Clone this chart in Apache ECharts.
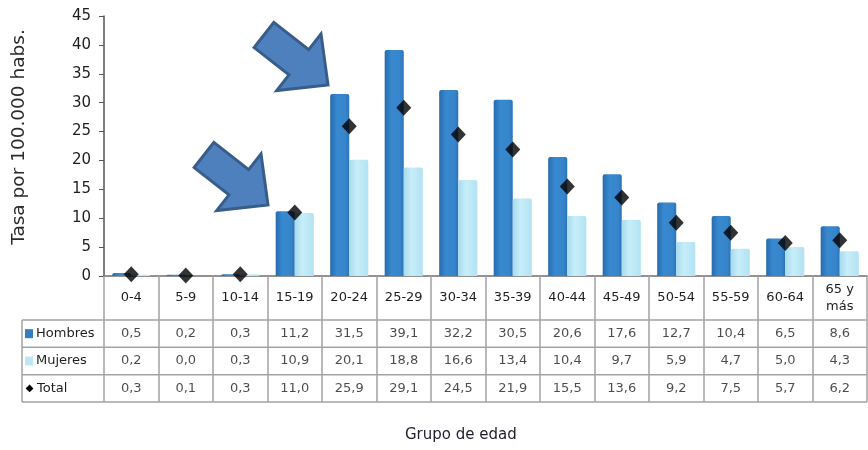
<!DOCTYPE html>
<html>
<head>
<meta charset="utf-8">
<title>Tasa por grupo de edad</title>
<script src="https://cdn.jsdelivr.net/npm/echarts@6/dist/echarts.min.js"></script>
<style>
  html, body { margin: 0; padding: 0; background: #fff; }
  #chart { width: 868px; height: 450px; }
</style>
</head>
<body>
<div id="chart"></div>
<script>
// Rates per 100,000 inhabitants by age group
const categorias = ['0-4', '5-9', '10-14', '15-19', '20-24', '25-29', '30-34', '35-39',
  '40-44', '45-49', '50-54', '55-59', '60-64', '65 y\nmás'];
const hombres = [0.5, 0.2, 0.3, 11.2, 31.5, 39.1, 32.2, 30.5, 20.6, 17.6, 12.7, 10.4, 6.5, 8.6];
const mujeres = [0.2, 0.0, 0.3, 10.9, 20.1, 18.8, 16.6, 13.4, 10.4, 9.7, 5.9, 4.7, 5.0, 4.3];
const total = [0.3, 0.1, 0.3, 11.0, 25.9, 29.1, 24.5, 21.9, 15.5, 13.6, 9.2, 7.5, 5.7, 6.2];
const filas = ['Hombres', 'Mujeres', 'Total'];
const ejeY = { min: 0, max: 45, interval: 5 };

// Layout
const W = 868;
const PLOT_LEFT = 104, PLOT_RIGHT = 867, PLOT_TOP = 16, PLOT_BOTTOM = 276;
const HEADER_BOTTOM = 320, TABLE_BOTTOM = 402, LEGEND_LEFT = 22;
const ROW_H = (TABLE_BOTTOM - HEADER_BOTTOM) / filas.length;
const FONT = '"DejaVu Sans", Verdana, sans-serif';
const GRID_LINE = '#a3a3a3';

const fmt = v => v.toFixed(1).replace('.', ',');

const colorHombres = new echarts.graphic.LinearGradient(0, 0, 1, 0, [
  { offset: 0, color: '#276cae' },
  { offset: 0.35, color: '#3789d0' },
  { offset: 0.8, color: '#3785cb' },
  { offset: 1, color: '#2b74b9' }
]);
const colorMujeres = new echarts.graphic.LinearGradient(0, 0, 1, 0, [
  { offset: 0, color: '#a6daee' },
  { offset: 0.4, color: '#c7eef9' },
  { offset: 1, color: '#b2e2f3' }
]);

// Table cells: [category index, row index, value]
const celdas = [];
[hombres, mujeres, total].forEach((serie, r) => {
  serie.forEach((v, i) => celdas.push([i, r, v]));
});

// Block arrow, built along its axis then rotated into place
function flecha(tx, ty, px, py) {
  const dx = px - tx, dy = py - ty;
  const len = Math.hypot(dx, dy);
  const ux = dx / len, uy = dy / len;
  const nx = -uy, ny = ux;
  const h = 16, H = 36, head = 37;
  const local = [[0, -h], [len - head, -h], [len - head, -H], [len, 0],
    [len - head, H], [len - head, h], [0, h]];
  return {
    type: 'polygon',
    z: 100,
    shape: { points: local.map(([a, b]) => [tx + a * ux + b * nx, ty + a * uy + b * ny]) },
    style: { fill: '#4f80be', stroke: '#385d8a', lineWidth: 3, lineJoin: 'miter' }
  };
}

// Table rules
const rules = [];
[HEADER_BOTTOM, HEADER_BOTTOM + ROW_H, HEADER_BOTTOM + 2 * ROW_H, TABLE_BOTTOM].forEach(y => {
  rules.push({
    type: 'line', z: 50,
    shape: { x1: LEGEND_LEFT, y1: y, x2: PLOT_RIGHT, y2: y },
    style: { stroke: GRID_LINE, lineWidth: 1.5 }
  });
});
rules.push({
  type: 'line', z: 50,
  shape: { x1: LEGEND_LEFT, y1: HEADER_BOTTOM, x2: LEGEND_LEFT, y2: TABLE_BOTTOM },
  style: { stroke: GRID_LINE, lineWidth: 1.5 }
});

const chart = echarts.init(document.getElementById('chart'), null, { renderer: 'canvas' });

chart.setOption({
  animation: false,
  backgroundColor: '#fff',
  textStyle: { fontFamily: FONT },
  grid: [
    { left: PLOT_LEFT, right: W - PLOT_RIGHT, top: PLOT_TOP, height: PLOT_BOTTOM - PLOT_TOP,
      containLabel: false, outerBoundsMode: 'none' },
    { left: PLOT_LEFT, right: W - PLOT_RIGHT, top: HEADER_BOTTOM, height: TABLE_BOTTOM - HEADER_BOTTOM,
      containLabel: false, outerBoundsMode: 'none' }
  ],
  xAxis: [
    {
      type: 'category',
      gridIndex: 0,
      data: categorias,
      axisLine: { show: true, lineStyle: { color: '#6f6f6f', width: 1.5 } },
      axisTick: { show: true, interval: 0, length: TABLE_BOTTOM - PLOT_BOTTOM,
        lineStyle: { color: GRID_LINE, width: 1.5 } },
      axisLabel: {
        interval: 0, margin: (HEADER_BOTTOM - PLOT_BOTTOM) / 2, verticalAlign: 'middle',
        fontFamily: FONT, fontSize: 13, lineHeight: 17, color: '#1e1e1e'
      },
      splitLine: { show: false }
    },
    {
      type: 'category',
      gridIndex: 1,
      data: categorias,
      axisLine: { show: false },
      axisTick: { show: false },
      axisLabel: { show: false },
      splitLine: { show: false }
    }
  ],
  yAxis: [
    {
      type: 'value',
      gridIndex: 0,
      min: ejeY.min, max: ejeY.max, interval: ejeY.interval,
      name: 'Tasa por 100.000 habs.',
      nameLocation: 'middle',
      nameRotate: 90,
      nameGap: 75,
      nameTextStyle: { fontFamily: FONT, fontSize: 18.5, color: '#2a2a2a', padding: [0, 0, 0, 18] },
      axisLine: { show: true, lineStyle: { color: '#555', width: 1.5 } },
      axisTick: { show: true, length: 5, lineStyle: { color: '#555' } },
      axisLabel: { margin: 13, fontFamily: FONT, fontSize: 15, color: '#1e1e1e' },
      splitLine: { show: false }
    },
    {
      type: 'category',
      gridIndex: 1,
      data: filas,
      inverse: true,
      axisLine: { show: false },
      axisTick: { show: false },
      splitLine: { show: false },
      axisLabel: {
        margin: PLOT_LEFT - LEGEND_LEFT - 3,
        align: 'left',
        fontFamily: FONT, fontSize: 13, color: '#1e1e1e',
        formatter: (v, i) => ['{h|}', '{m|}', '{t|◆}'][i] + '{txt|' + v + '}',
        rich: {
          h: { width: 8, height: 9, backgroundColor: '#2f7fc4' },
          m: { width: 8, height: 9, backgroundColor: '#bde6f5' },
          t: { fontSize: 10, color: '#000', width: 9, align: 'center' },
          txt: { fontFamily: FONT, fontSize: 13, color: '#1e1e1e', padding: [0, 0, 0, 3] }
        }
      }
    }
  ],
  series: [
    {
      name: 'Hombres',
      type: 'bar',
      xAxisIndex: 0, yAxisIndex: 0,
      data: hombres,
      barGap: '0%',
      barCategoryGap: '30%',
      itemStyle: { color: colorHombres, borderRadius: [2, 2, 0, 0] }
    },
    {
      name: 'Mujeres',
      type: 'bar',
      xAxisIndex: 0, yAxisIndex: 0,
      data: mujeres,
      itemStyle: { color: colorMujeres, borderRadius: [2, 2, 0, 0] }
    },
    {
      name: 'Total',
      type: 'scatter',
      xAxisIndex: 0, yAxisIndex: 0,
      data: total,
      symbol: 'diamond',
      symbolSize: [15, 16],
      z: 10,
      itemStyle: { color: '#000' }
    },
    {
      name: 'Tabla',
      type: 'scatter',
      xAxisIndex: 1, yAxisIndex: 1,
      data: celdas,
      symbolSize: 1,
      silent: true,
      itemStyle: { color: 'rgba(0,0,0,0)' },
      label: {
        show: true, position: 'inside',
        fontFamily: FONT, fontSize: 13, color: '#1e1e1e',
        formatter: p => fmt(p.value[2])
      }
    }
  ],
  graphic: [
    ...rules,
    flecha(204, 155, 268, 205),
    flecha(264, 35, 328, 85),
    {
      type: 'text',
      left: 405,
      top: 428,
      style: { text: 'Grupo de edad', font: '15px ' + FONT, fill: '#1e1e2e' }
    }
  ]
});
</script>
</body>
</html>
